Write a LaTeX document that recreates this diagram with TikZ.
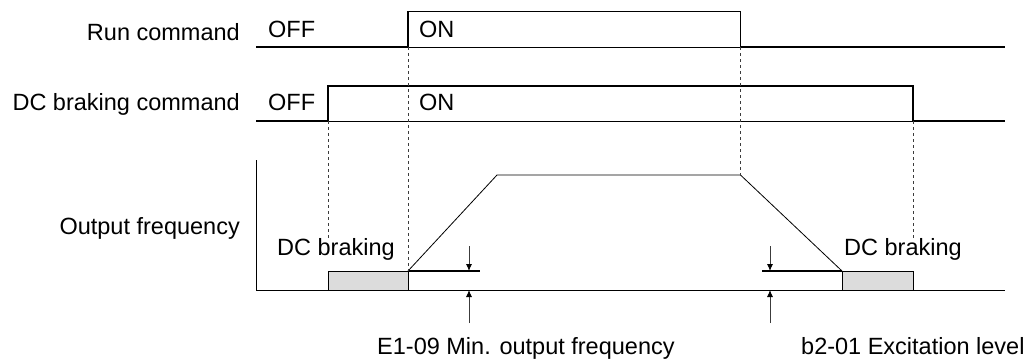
\documentclass[tikz,border=0pt]{standalone}
\usepackage{fontspec}
\setmainfont{Liberation Sans}
\usepackage{tikz}
\usetikzlibrary{arrows.meta, positioning}
\definecolor{brakegray}{RGB}{220, 220, 220}
\definecolor{guidegray}{RGB}{60, 60, 60}

\begin{document}
\begin{tikzpicture}[x=1pt, y=1pt,
        signal/.style={line width=1.8pt, line join=miter},
        refline/.style={line width=0.8pt},
        ramp/.style={line width=0.8pt},
        minline/.style={line width=1.6pt},
        guide/.style={guidegray, line width=1pt, dash pattern=on 3pt off 3pt},
        dimarrow/.style={-{Latex[length=7pt, width=6pt, color=black]}, line width=0.9pt, color=guidegray},
        lbl/.style={font=\fontsize{23.5}{28}\selectfont, inner sep=0pt},
        brakebox/.style={draw, line width=0.8pt, fill=brakegray}
    ]
        \useasboundingbox (0,0) rectangle (1034,360);

        % key points of the time chart
        \coordinate (runOn) at (408,313);
        \coordinate (runOff) at (740.5,313);
        \coordinate (dcOn) at (328,239);
        \coordinate (dcOff) at (913,239);
        \coordinate (origin) at (256,70);

        % labels
        \node[lbl, anchor=base east] (runlbl) at (240,319.5) {Run command};
        \node[lbl, anchor=base east] (dclbl) at (240,249.5) {DC braking command};
        \node[lbl, anchor=base east] (freqlbl) at (240,126) {Output frequency};
        \node[lbl, anchor=base west] (runoff) at (268,322.7) {OFF};
        \node[lbl, anchor=base west] (runon) at (419,322.7) {ON};
        \node[lbl, anchor=base west] (dcoff) at (268,250) {OFF};
        \node[lbl, anchor=base west] (dcon) at (419,250) {ON};
        \node[lbl, anchor=base west] (brakeL) at (277,105) {DC braking};
        \node[lbl, anchor=base west] (brakeR) at (844,105) {DC braking};
        \node[lbl, anchor=base west] (minfreq) at (377,5.3) {E1-09 Min. output frequency};
        \node[lbl, anchor=base west] (excite) at (801,5.3) {b2-01 Excitation level};

        % run command
        \draw[refline] (256,313) -- (1005,313);
        \draw[signal] (256,313) -- (runOn) -- (408,348.5) -- (740.5,348.5) -- (runOff) -- (1005,313);

        % DC braking command
        \draw[refline] (256,239) -- (1005,239);
        \draw[signal] (256,239) -- (dcOn) -- (328,274) -- (913,274) -- (dcOff) -- (1005,239);

        % output frequency
        \draw[brakebox] (328,70) rectangle (408,89);
        \draw[brakebox] (842,70) rectangle (913,89);
        \draw[refline] (256,200) -- (origin) -- (1005,70);
        \draw[ramp] (408,89) -- (497,185) -- (740.5,185) -- (842,89);
        \draw[minline] (408,89) -- (480,89);
        \draw[minline] (762,89) -- (842,89);

        % dashed guides
        \draw[guide] (runOn) -- (408,89);
        \draw[guide] (runOff) -- (740.5,185);
        \draw[guide] (dcOn) -- (dcOn |- brakeL.north);
        \draw[guide] (dcOff) -- (dcOff |- brakeR.north);

        % level marks
        \draw[dimarrow] (469,114) -- (469,89);
        \draw[dimarrow] (469,37) -- (469,70);
        \draw[dimarrow] (770,114) -- (770,89);
        \draw[dimarrow] (770,37) -- (770,70);
    \end{tikzpicture}
\end{document}
